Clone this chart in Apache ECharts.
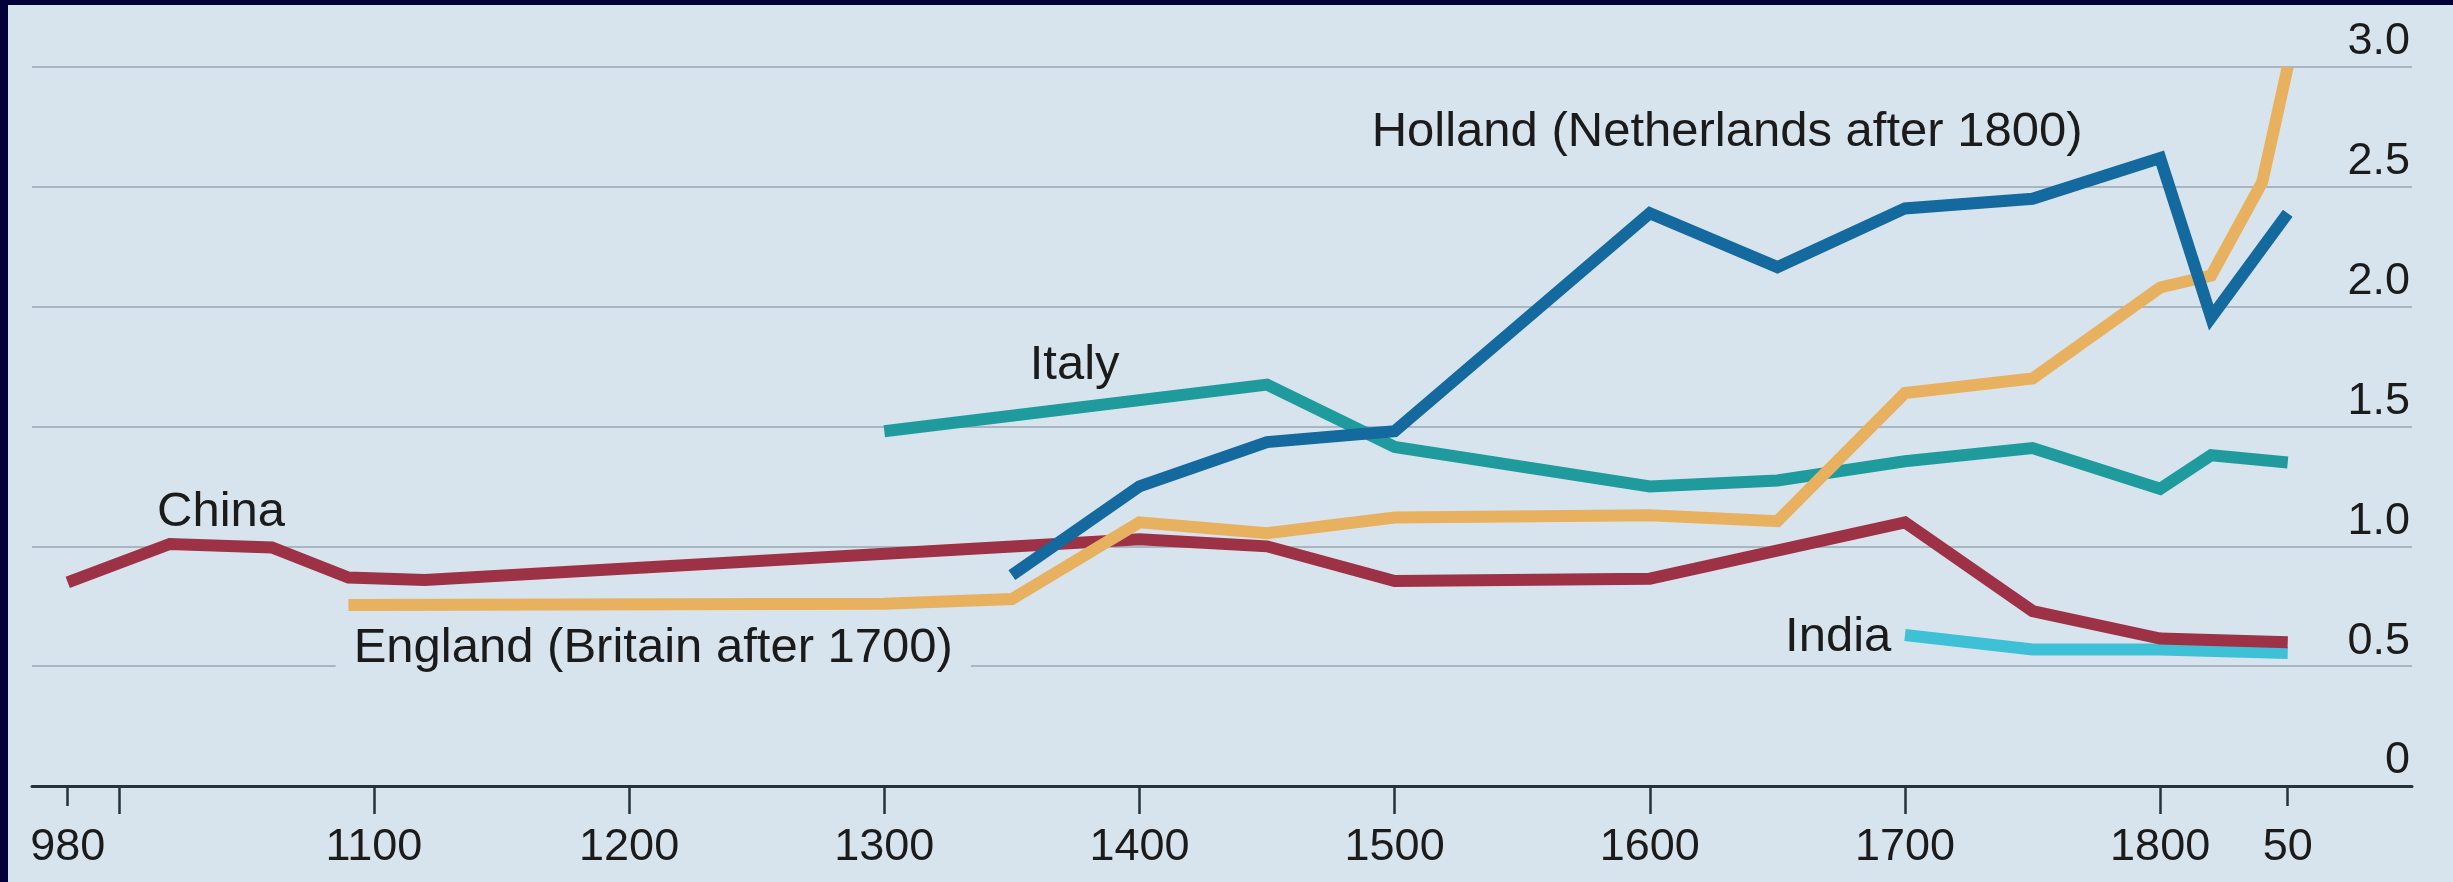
<!DOCTYPE html>
<html>
<head>
<meta charset="utf-8">
<title>GDP per person</title>
<script src="https://cdn.jsdelivr.net/npm/echarts@6/dist/echarts.min.js"></script>
<style>
    html, body { margin: 0; padding: 0; background: #020238; }
    #chart { position: absolute; left: 8px; top: 5px; width: 2445px; height: 877px; background: #d7e4ee; }
</style>
</head>
<body>
<div id="chart"></div>
<script>
// years / values
var chinaYears = [980, 1020, 1060, 1090, 1120, 1400, 1450, 1500, 1600, 1700, 1750, 1800, 1850];
var chinaValues = [0.85, 1.01, 0.995, 0.87, 0.86, 1.03, 1.0, 0.855, 0.865, 1.1, 0.73, 0.615, 0.6];

var englandYears = [1090, 1300, 1350, 1400, 1450, 1500, 1600, 1650, 1700, 1750, 1800, 1820, 1840, 1850];
var englandValues = [0.755, 0.76, 0.78, 1.1, 1.055, 1.12, 1.13, 1.105, 1.64, 1.7, 2.08, 2.13, 2.52, 3.0];

var hollandYears = [1350, 1400, 1450, 1500, 1600, 1650, 1700, 1750, 1800, 1820, 1850];
var hollandValues = [0.88, 1.25, 1.435, 1.48, 2.39, 2.165, 2.41, 2.45, 2.62, 1.955, 2.39];

var italyYears = [1300, 1450, 1500, 1600, 1650, 1700, 1750, 1800, 1820, 1850];
var italyValues = [1.48, 1.675, 1.415, 1.25, 1.275, 1.355, 1.41, 1.24, 1.38, 1.35];

var indiaYears = [1700, 1750, 1800, 1850];
var indiaValues = [0.63, 0.57, 0.57, 0.555];

// axis ticks and labels
var tickYears = [1000, 1100, 1200, 1300, 1400, 1500, 1600, 1700, 1800];
var endTickYears = [980, 1850];
var labelYears = [980, 1100, 1200, 1300, 1400, 1500, 1600, 1700, 1800, 1850];
var labelTexts = ['980', '1100', '1200', '1300', '1400', '1500', '1600', '1700', '1800', '50'];
var yTicks = [0, 0.5, 1, 1.5, 2, 2.5, 3];
var yTickLabels = ['0', '0.5', '1.0', '1.5', '2.0', '2.5', '3.0'];

// series names, written on the chart
var seriesNames = ['China', 'England (Britain after 1700)', 'Holland (Netherlands after 1800)', 'Italy', 'India'];

var FONT = "'Liberation Sans', Arial, sans-serif";
var TEXT = '#1b1b1b';

function pairs(years, values) {
    var out = [];
    for (var i = 0; i < years.length; i++) {
        out.push([years[i], values[i]]);
    }
    return out;
}

function line(name, years, values, color, z) {
    return {
        name: name,
        type: 'line',
        data: pairs(years, values),
        showSymbol: false,
        symbol: 'none',
        z: z,
        lineStyle: { color: color, width: 12, join: 'miter', miterLimit: 3, cap: 'butt' },
        animation: false
    };
}

var dom = document.getElementById('chart');
var myChart = echarts.init(dom);

var option = {
    animation: false,
    grid: { left: 24, right: 41, top: 62, bottom: 96, containLabel: false },
    xAxis: [{
        type: 'value',
        min: 966,
        max: 1898.7,
        position: 'bottom',
        splitLine: { show: false },
        axisLine: { lineStyle: { color: '#27323a', width: 3 } },
        axisTick: { customValues: tickYears, length: 28, lineStyle: { color: '#27323a', width: 2.5 } },
        axisLabel: {
            customValues: labelYears,
            margin: 39,
            lineHeight: 45,
            fontSize: 45,
            fontFamily: FONT,
            color: TEXT,
            formatter: function (v) {
                var i = labelYears.indexOf(v);
                return i >= 0 ? labelTexts[i] : '';
            }
        }
    }, {
        // shorter ticks at both ends
        type: 'value',
        min: 966,
        max: 1898.7,
        position: 'bottom',
        splitLine: { show: false },
        axisLine: { show: false },
        axisTick: { customValues: endTickYears, length: 20, lineStyle: { color: '#27323a', width: 2.5 } },
        axisLabel: { show: false }
    }],
    yAxis: {
        type: 'value',
        position: 'right',
        min: 0,
        max: 3,
        interval: 0.5,
        axisLine: { show: false },
        axisTick: { show: false },
        splitLine: { showMinLine: false, lineStyle: { color: '#a7b6c1', width: 2 } },
        axisLabel: {
            inside: true,
            margin: 2,
            fontSize: 45,
            fontFamily: FONT,
            color: TEXT,
            verticalAlign: 'bottom',
            lineHeight: 50,
            formatter: function (v) {
                var i = yTicks.indexOf(Math.round(v * 10) / 10);
                return i >= 0 ? yTickLabels[i] : '';
            }
        }
    },
    series: [
        line(seriesNames[4], indiaYears, indiaValues, '#3ec0d7', 2),
        line(seriesNames[0], chinaYears, chinaValues, '#9d3246', 3),
        line(seriesNames[3], italyYears, italyValues, '#1f9b9d', 4),
        line(seriesNames[1], englandYears, englandValues, '#e8b15f', 5),
        line(seriesNames[2], hollandYears, hollandValues, '#14699e', 6)
    ]
};

myChart.setOption(option, true);

// where each name sits: [year, value] of the text's left-middle point
var nameAnchors = [[1015, 1.14], [1085, 0.575], [1491, 2.725], [1357, 1.755], [1653, 0.62]];
var graphics = [];
for (var i = 0; i < seriesNames.length; i++) {
    var p = myChart.convertToPixel({ gridIndex: 0 }, nameAnchors[i]);
    graphics.push({
        type: 'text',
        x: p[0],
        y: p[1],
        z: 1,
        style: {
            text: seriesNames[i],
            font: '49px ' + FONT,
            fill: TEXT,
            align: 'left',
            verticalAlign: 'middle',
            // the England label cuts the 0.5 gridline
            backgroundColor: i === 1 ? '#d7e4ee' : null,
            padding: i === 1 ? [2, 18] : 0
        }
    });
}
myChart.setOption({ graphic: graphics });
</script>
</body>
</html>
